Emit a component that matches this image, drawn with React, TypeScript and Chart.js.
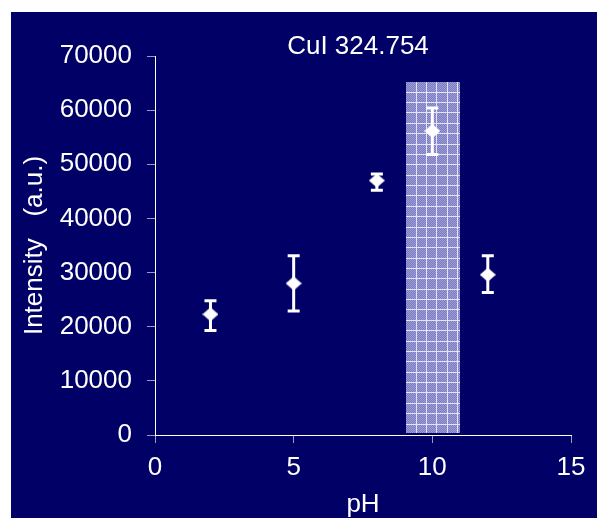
import React, { useEffect, useRef } from "react";
import { Chart, registerables } from "chart.js";

Chart.register(...registerables);

// Measured emission intensity of the Cu I 324.754 nm line vs. solution pH
const phValues = [2, 5, 8, 10, 12];
const intensity = [22300, 28000, 47000, 56150, 29600];
const intensityHigh = [24800, 33100, 48200, 60400, 33100];
const intensityLow = [19300, 22900, 45200, 51800, 26300];

// Highlighted optimum pH window
const bandRange = [9.05, 11];
const bandTop = 65200;

const xTickValues = [0, 5, 10, 15];
const yTickValues = [0, 10000, 20000, 30000, 40000, 50000, 60000, 70000];

const chartTitle = "CuI 324.754";
const xTitle = "pH";
const yTitle = "Intensity   (a.u.)";

const W = 597;
const H = 518;
const FONT = "'Liberation Sans', Arial, Helvetica, sans-serif";
const NAVY = "#000066";
const TICK_GREY = "#9a9ac4";

function makeDiamond(w: number, h: number): HTMLCanvasElement {
  const c = document.createElement("canvas");
  c.width = w;
  c.height = h;
  const g = c.getContext("2d")!;
  g.fillStyle = "#ffffff";
  g.beginPath();
  g.moveTo(w / 2, 0);
  g.lineTo(w, h / 2);
  g.lineTo(w / 2, h);
  g.lineTo(0, h / 2);
  g.closePath();
  g.fill();
  return c;
}

function makeDither(ctx: CanvasRenderingContext2D): CanvasPattern | string {
  const c = document.createElement("canvas");
  c.width = 2;
  c.height = 2;
  const g = c.getContext("2d")!;
  g.fillStyle = "#7c7cc2";
  g.fillRect(0, 0, 2, 2);
  g.fillStyle = "#9c9cd6";
  g.fillRect(0, 0, 1, 1);
  g.fillRect(1, 1, 1, 1);
  return ctx.createPattern(c, "repeat") || "#8c8ccc";
}

const backgroundPlugin = {
  id: "panelBackground",
  beforeDraw(chart: any) {
    const { ctx, width, height } = chart;
    ctx.save();
    ctx.fillStyle = "#ffffff";
    ctx.fillRect(0, 0, width, height);
    ctx.fillStyle = NAVY;
    ctx.fillRect(11, 12, width - 11, height - 12);
    ctx.restore();
  },
};

const bandPlugin = {
  id: "phBand",
  beforeDraw(chart: any) {
    const { ctx } = chart;
    const xs = chart.scales.x;
    const ys = chart.scales.y;
    const x0 = Math.round(xs.getPixelForValue(bandRange[0]));
    const x1 = Math.round(xs.getPixelForValue(bandRange[1]));
    const yTop = Math.round(ys.getPixelForValue(bandTop));
    const yBot = Math.round(ys.getPixelForValue(0)) - 2;
    ctx.save();
    ctx.fillStyle = makeDither(ctx);
    ctx.fillRect(x0, yTop, x1 - x0, yBot - yTop);
    ctx.strokeStyle = "#e4e4f6";
    ctx.lineWidth = 1;
    const step = 10.37;
    ctx.beginPath();
    for (let x = x0 + 9.7; x < x1; x += step) {
      const px = Math.round(x) + 0.5;
      ctx.moveTo(px, yTop);
      ctx.lineTo(px, yBot);
    }
    for (let y = yTop + 9.7; y < yBot; y += step) {
      const py = Math.round(y) + 0.5;
      ctx.moveTo(x0, py);
      ctx.lineTo(x1, py);
    }
    ctx.stroke();
    ctx.restore();
  },
};

const errorBarPlugin = {
  id: "errorBars",
  beforeDatasetsDraw(chart: any) {
    const { ctx } = chart;
    const xs = chart.scales.x;
    const ys = chart.scales.y;
    ctx.save();
    ctx.strokeStyle = "#ffffff";
    ctx.lineCap = "butt";
    for (let i = 0; i < phValues.length; i++) {
      const px = xs.getPixelForValue(phValues[i]);
      const hi = ys.getPixelForValue(intensityHigh[i]);
      const lo = ys.getPixelForValue(intensityLow[i]);
      ctx.lineWidth = 3;
      ctx.beginPath();
      ctx.moveTo(px, hi);
      ctx.lineTo(px, lo);
      ctx.stroke();
      ctx.beginPath();
      ctx.moveTo(px - 6, hi);
      ctx.lineTo(px + 6, hi);
      ctx.moveTo(px - 6, lo);
      ctx.lineTo(px + 6, lo);
      ctx.stroke();
    }
    ctx.restore();
  },
};

const titlePlugin = {
  id: "panelTitle",
  afterDraw(chart: any) {
    const { ctx, chartArea } = chart;
    ctx.save();
    ctx.fillStyle = "#ffffff";
    ctx.font = `26px ${FONT}`;
    ctx.textAlign = "center";
    ctx.textBaseline = "alphabetic";
    ctx.fillText(chartTitle, chartArea.left + 203, 54);
    ctx.restore();
  },
};

export default function App() {
  const canvasRef = useRef<HTMLCanvasElement | null>(null);

  useEffect(() => {
    const canvas = canvasRef.current;
    if (!canvas) return;
    const diamond = makeDiamond(16, 14);
    const chart = new Chart(canvas, {
      type: "scatter",
      data: {
        datasets: [
          {
            label: "Cu",
            data: phValues.map((x, i) => ({ x, y: intensity[i] })),
            pointStyle: diamond as any,
            pointRadius: 7,
            backgroundColor: "#ffffff",
            borderColor: "#ffffff",
            showLine: false,
          },
        ],
      },
      options: {
        responsive: false,
        animation: false,
        devicePixelRatio: 1,
        events: [],
        layout: { padding: { top: 56, right: 26, left: 0, bottom: 0 } },
        plugins: {
          legend: { display: false },
          tooltip: { enabled: false },
          title: { display: false },
        },
        scales: {
          x: {
            type: "linear",
            min: xTickValues[0],
            max: xTickValues[xTickValues.length - 1],
            afterBuildTicks: (s: any) => {
              s.ticks = xTickValues.map((v) => ({ value: v }));
            },
            ticks: {
              color: "#ffffff",
              font: { family: FONT, size: 26, lineHeight: 1.2 },
              padding: 9,
              maxRotation: 0,
              autoSkip: false,
            },
            grid: {
              drawOnChartArea: false,
              drawTicks: true,
              tickLength: 8,
              color: TICK_GREY,
              lineWidth: 1,
            },
            border: { display: true, color: "#ffffff", width: 1 },
            title: {
              display: true,
              text: xTitle,
              color: "#ffffff",
              font: { family: FONT, size: 26, lineHeight: 1 },
              padding: { top: 0, bottom: 0 },
            },
            afterFit: (s: any) => {
              s.height = 83;
            },
          },
          y: {
            type: "linear",
            min: yTickValues[0],
            max: yTickValues[yTickValues.length - 1],
            afterBuildTicks: (s: any) => {
              s.ticks = yTickValues.map((v) => ({ value: v }));
            },
            ticks: {
              color: "#ffffff",
              font: { family: FONT, size: 26, lineHeight: 1.2 },
              padding: 15,
              autoSkip: false,
              callback: (v: any) => String(v),
            },
            grid: {
              drawOnChartArea: false,
              drawTicks: true,
              tickLength: 8,
              color: TICK_GREY,
              lineWidth: 1,
            },
            border: { display: true, color: "#ffffff", width: 1 },
            title: {
              display: true,
              text: yTitle,
              color: "#ffffff",
              font: { family: FONT, size: 26, lineHeight: 1.2 },
              padding: { top: 19, bottom: 0 },
            },
            afterFit: (s: any) => {
              s.width = 155;
            },
          },
        },
      },
      plugins: [backgroundPlugin, bandPlugin, errorBarPlugin, titlePlugin],
    });
    return () => chart.destroy();
  }, []);

  return (
    <div style={{ position: "absolute", left: 0, top: 0, width: W, height: H }}>
      <canvas ref={canvasRef} width={W} height={H} style={{ display: "block", width: W, height: H }} />
    </div>
  );
}
